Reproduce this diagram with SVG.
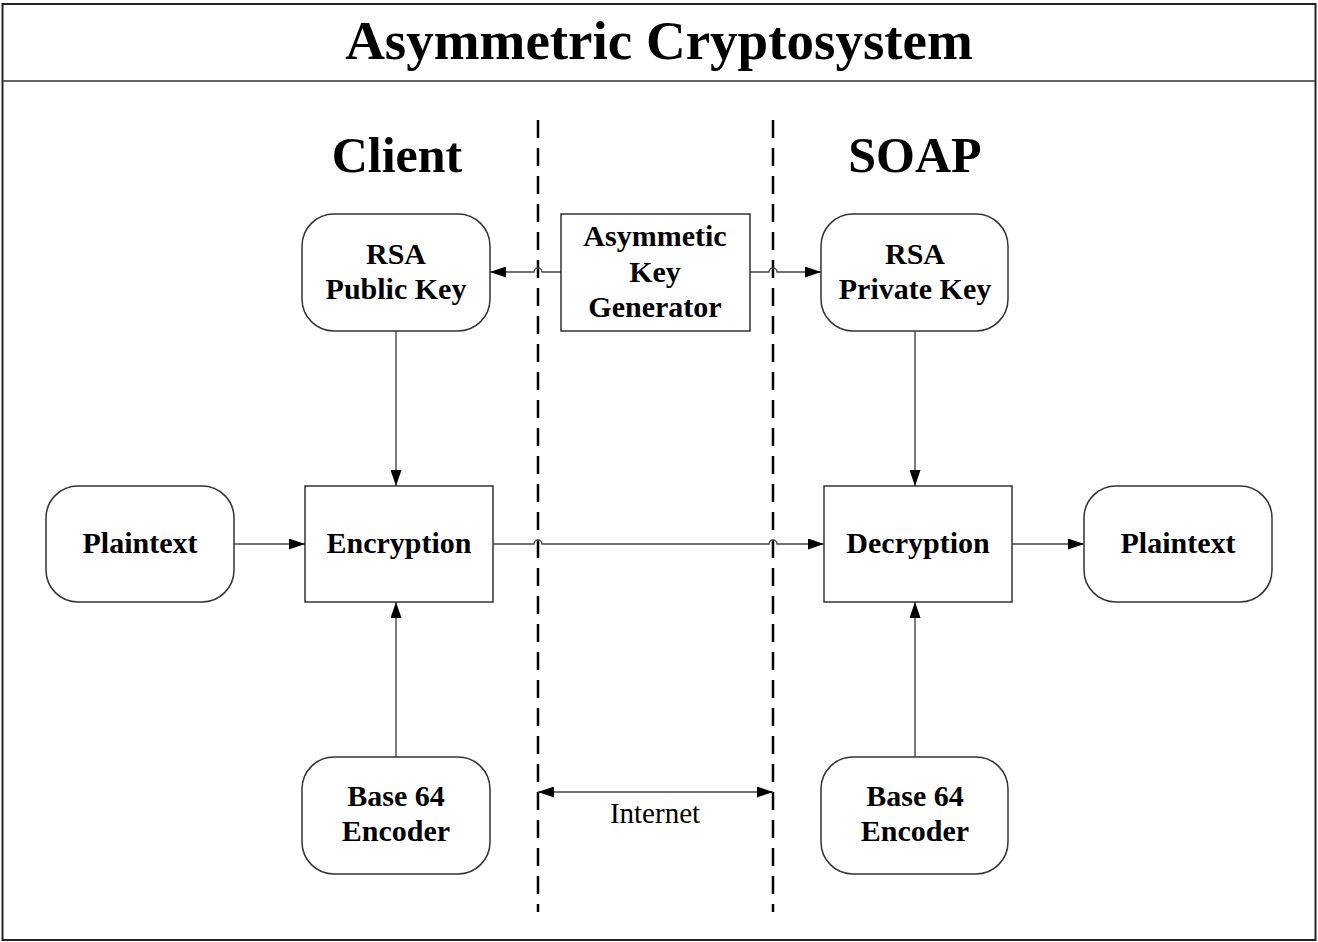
<svg xmlns="http://www.w3.org/2000/svg" width="1318" height="942" viewBox="0 0 1318 942">
<style>
text{font-family:"Liberation Serif","Times New Roman",serif;fill:#000;text-anchor:middle}
.n{font-size:30px;font-weight:bold}
.h{font-size:50px;font-weight:bold}
.box{fill:#fff;stroke:#333;stroke-width:1.5}
.c{fill:none;stroke:#444;stroke-width:1.4}
.d{fill:none;stroke:#000;stroke-width:2.5;stroke-dasharray:18,10}
</style>
<defs>
<marker id="a" viewBox="0 0 16 11" refX="16" refY="5.5" markerWidth="16" markerHeight="11" markerUnits="userSpaceOnUse" orient="auto-start-reverse"><path d="M0,0L16,5.5L0,11Z" fill="#000"/></marker>
</defs>
<rect x="0" y="0" width="1318" height="942" fill="#fff"/>
<rect x="2.5" y="4" width="1313" height="936" fill="none" stroke="#222" stroke-width="2"/>
<line x1="2" y1="81" x2="1316" y2="81" stroke="#333" stroke-width="1.5"/>
<text x="659" y="59" font-size="55" font-weight="bold">Asymmetric Cryptosystem</text>
<text class="h" x="397" y="172">Client</text>
<text class="h" x="915" y="172">SOAP</text>
<g id="separators">
<line class="d" x1="538" y1="120" x2="538" y2="912"/>
<line class="d" x1="773" y1="120" x2="773" y2="912"/>
</g>
<g id="connectors">
<path class="c" d="M561,272H542a4,4 0 0 0 -8,0H490" marker-end="url(#a)"/>
<path class="c" d="M750,272H769a4,4 0 0 1 8,0H821" marker-end="url(#a)"/>
<path class="c" d="M396,331V486" marker-end="url(#a)"/>
<path class="c" d="M915,331V486" marker-end="url(#a)"/>
<path class="c" d="M234,544H305" marker-end="url(#a)"/>
<path class="c" d="M493,544H534a4,4 0 0 1 8,0H769a4,4 0 0 1 8,0H824" marker-end="url(#a)"/>
<path class="c" d="M1012,544H1084" marker-end="url(#a)"/>
<path class="c" d="M396,757V602" marker-end="url(#a)"/>
<path class="c" d="M915,757V602" marker-end="url(#a)"/>
<path class="c" d="M538,792H773" marker-start="url(#a)" marker-end="url(#a)"/>
<text x="655" y="823" font-size="29">Internet</text>
</g>
<g id="rsa-public"><rect class="box" x="302" y="214" width="188" height="117" rx="32"/><text class="n" x="396" y="264">RSA</text><text class="n" x="396" y="299">Public Key</text></g>
<g id="keygen"><rect class="box" x="561" y="214" width="189" height="117"/><text class="n" x="655" y="246">Asymmetic</text><text class="n" x="655" y="282">Key</text><text class="n" x="655" y="317">Generator</text></g>
<g id="rsa-private"><rect class="box" x="821" y="214" width="187" height="117" rx="32"/><text class="n" x="915" y="264">RSA</text><text class="n" x="915" y="299">Private Key</text></g>
<g id="plaintext-left"><rect class="box" x="46" y="486" width="188" height="116" rx="32"/><text class="n" x="140" y="553">Plaintext</text></g>
<g id="encryption"><rect class="box" x="305" y="486" width="188" height="116"/><text class="n" x="399" y="553">Encryption</text></g>
<g id="decryption"><rect class="box" x="824" y="486" width="188" height="116"/><text class="n" x="918" y="553">Decryption</text></g>
<g id="plaintext-right"><rect class="box" x="1084" y="486" width="188" height="116" rx="32"/><text class="n" x="1178" y="553">Plaintext</text></g>
<g id="base64-left"><rect class="box" x="302" y="757" width="188" height="117" rx="32"/><text class="n" x="396" y="806">Base 64</text><text class="n" x="396" y="841">Encoder</text></g>
<g id="base64-right"><rect class="box" x="821" y="757" width="187" height="117" rx="32"/><text class="n" x="915" y="806">Base 64</text><text class="n" x="915" y="841">Encoder</text></g>
</svg>
